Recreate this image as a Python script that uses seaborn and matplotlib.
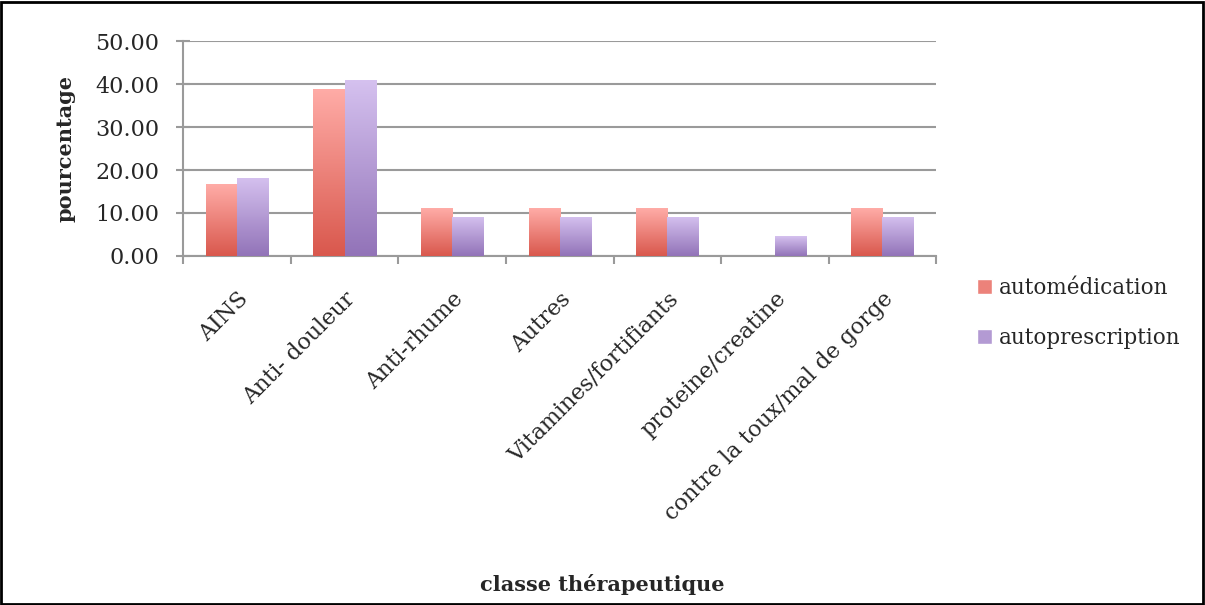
import numpy as np
import pandas as pd
import matplotlib
matplotlib.use("Agg")
import matplotlib.pyplot as plt
import matplotlib.colors as mcolors
from matplotlib.patches import Rectangle, Patch
import seaborn as sns

# data
categories = [
    "AINS",
    "Anti- douleur",
    "Anti-rhume",
    "Autres",
    "Vitamines/fortifiants",
    "proteine/creatine",
    "contre la toux/mal de gorge",
]
automedication = [16.67, 38.89, 11.11, 11.11, 11.11, 0.0, 11.11]
autoprescription = [18.18, 40.91, 9.09, 9.09, 9.09, 4.55, 9.09]
series_names = ["automédication", "autoprescription"]

# gradient colours (top, bottom) per series
grad_colors = {
    "automédication": ("#ffaca7", "#d9584d"),
    "autoprescription": ("#d5c1ef", "#9273b8"),
}

df = pd.DataFrame({
    "classe": categories * 2,
    "serie": [series_names[0]] * len(categories) + [series_names[1]] * len(categories),
    "pourcentage": automedication + autoprescription,
})

sns.set_theme(style="white")
plt.rcParams["font.family"] = ["DejaVu Serif"]

fig = plt.figure(figsize=(12.05, 6.05), dpi=100)
ax = fig.add_axes([0.152, 0.577, 0.625, 0.355])

sns.barplot(
    data=df, x="classe", y="pourcentage", hue="serie",
    hue_order=series_names, order=categories,
    width=0.58, gap=0, legend=False, ax=ax,
    palette=[grad_colors[s][1] for s in series_names],
    edgecolor="none", linewidth=0,
)

ax.set_ylim(0, 50)
ax.set_xlim(-0.5, len(categories) - 0.5)
xlim, ylim = ax.get_xlim(), ax.get_ylim()

# vertical gradient fill clipped to each bar
for container, name in zip(ax.containers, series_names):
    top, bottom = grad_colors[name]
    cmap = mcolors.LinearSegmentedColormap.from_list(name, [bottom, top])
    grad = np.linspace(0, 1, 128).reshape(-1, 1)
    for bar in container:
        h = bar.get_height()
        if h <= 0:
            continue
        x0, w = bar.get_x(), bar.get_width()
        im = ax.imshow(grad, cmap=cmap, origin="lower", aspect="auto",
                       extent=[x0, x0 + w, 0, h], zorder=3)
        im.set_clip_path(bar)
        bar.set_facecolor("none")
ax.set_xlim(xlim)
ax.set_ylim(ylim)

# axes styling
grid_c = "#9a9a9a"
ax.set_yticks(np.arange(0, 51, 10))
ax.set_yticklabels([f"{v:.2f}" for v in np.arange(0, 51, 10)], fontsize=16)
ax.yaxis.grid(True, color=grid_c, linewidth=1.5)
ax.set_axisbelow(True)
for s in ["top", "right"]:
    ax.spines[s].set_visible(False)
for s in ["left", "bottom"]:
    ax.spines[s].set_color(grid_c)
    ax.spines[s].set_linewidth(1.5)
ax.tick_params(axis="y", which="major", left=True, direction="inout",
               length=10, width=1.5, color=grid_c, pad=12)

# category ticks between groups, labels at group centres
ax.set_xticks(np.arange(len(categories)))
ax.set_xticklabels(categories, rotation=45, ha="right", rotation_mode="anchor",
                   fontsize=16)
ax.tick_params(axis="x", which="major", bottom=False, pad=17)
ax.set_xticks(np.arange(-0.5, len(categories)), minor=True)
ax.tick_params(axis="x", which="minor", bottom=True, length=6, width=1.5,
               color=grid_c)

ax.set_xlabel("")
ax.set_ylabel("pourcentage", fontsize=15, fontweight="bold", labelpad=14)
fig.text(0.5, 0.016, "classe thérapeutique", ha="center", va="bottom",
         fontsize=15, fontweight="bold")

handles = [Patch(facecolor=mcolors.to_hex(
    np.mean([mcolors.to_rgb(c) for c in grad_colors[s]], axis=0)), label=s)
    for s in series_names]
fig.legend(handles=handles, loc="upper left", bbox_to_anchor=(0.811, 0.542),
           frameon=False, fontsize=15.5, handlelength=0.7, handleheight=0.7,
           handletextpad=0.3, labelspacing=1.3, borderpad=0, borderaxespad=0)

# black frame around the whole figure
fig.patches.append(Rectangle((0.001, 0.002), 0.997, 0.995, transform=fig.transFigure,
                             fill=False, edgecolor="black", linewidth=2))

fig.savefig("out.png", dpi=100)
